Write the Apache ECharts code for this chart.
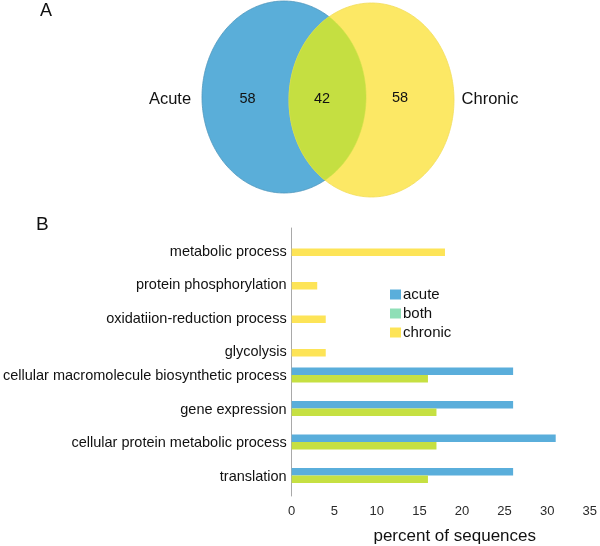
<!DOCTYPE html>
<html><head><meta charset="utf-8">
<script src="https://cdn.jsdelivr.net/npm/echarts@6/dist/echarts.min.js"></script>
<style>html,body{margin:0;padding:0;background:#fff}#c{width:600px;height:546px}</style>
</head><body><div id="c"></div>
<script>
// ---- data ----
const vennSets = ['Acute', 'Chronic'];
const vennCounts = [58, 42, 58]; // acute only, shared, chronic only
const categories = ['metabolic process', 'protein phosphorylation', 'oxidatiion-reduction process', 'glycolysis',
  'cellular macromolecule biosynthetic process', 'gene expression', 'cellular protein metabolic process', 'translation'];
const seriesNames = ['acute', 'both', 'chronic'];
const acuteValues = [null, null, null, null, 26, 26, 31, 26];
const bothValues = [null, null, null, null, 16, 17, 17, 16];
const chronicValues = [18, 3, 4, 4, null, null, null, null];
const xTickValues = [0, 5, 10, 15, 20, 25, 30, 35];
const axisTitle = 'percent of sequences';
const panelLabels = ['A', 'B'];

// ---- layout / style ----
const FONT = '"Liberation Sans", Arial, Helvetica, sans-serif';
const C_BLUE = '#5aaed9', C_YELLOW = '#fce865', C_LENS = '#c5df41';
const C_BAR_BLUE = '#5aaedb', C_BAR_GREEN = '#c6e042', C_BAR_YELLOW = '#fde457', C_LEG_GREEN = '#8fdfb7';
const VENN = {
  a: { cx: 284, cy: 97, rx: 82, ry: 96 },
  b: { cx: 371.5, cy: 100, rx: 82.5, ry: 97 }
};
const labelShift = [7, 7, 7, 7, -2.5, -2.5, -2.5, -2.5];

function inside(e, x, y) {
  const dx = (x - e.cx) / e.rx, dy = (y - e.cy) / e.ry;
  return dx * dx + dy * dy <= 1;
}
function ellipsePts(e, t0, t1, n) {
  const pts = [];
  for (let i = 0; i <= n; i++) {
    const t = t0 + (t1 - t0) * i / n;
    pts.push([e.cx + e.rx * Math.cos(t), e.cy + e.ry * Math.sin(t)]);
  }
  return pts;
}
function lensPts() {
  const left = ellipsePts(VENN.b, Math.PI / 2, Math.PI * 1.5, 720).filter(p => inside(VENN.a, p[0], p[1]));
  const right = ellipsePts(VENN.a, -Math.PI / 2, Math.PI / 2, 720).filter(p => inside(VENN.b, p[0], p[1]));
  return left.concat(right);
}

function renderVenn(params, api) {
  const txt = (s, x, y, size) => ({
    type: 'text', style: { text: s, x: x, y: y, font: size + 'px ' + FONT, fill: '#111', align: 'center', verticalAlign: 'middle' }
  });
  const a = VENN.a, b = VENN.b;
  return {
    type: 'group',
    children: [
      { type: 'polygon', shape: { points: ellipsePts(a, 0, Math.PI * 2, 360) }, style: { fill: C_BLUE, stroke: '#4f97bd', lineWidth: 0.8 } },
      { type: 'polygon', shape: { points: ellipsePts(b, 0, Math.PI * 2, 360) }, style: { fill: C_YELLOW, stroke: '#f3dd5c', lineWidth: 0.8 } },
      { type: 'polygon', shape: { points: lensPts() }, style: { fill: C_LENS, stroke: '#cfe04a', lineWidth: 0.6 } },
      txt(vennSets[0], 170, 99, 16.5),
      txt(String(vennCounts[0]), 247.5, 99, 14.5),
      txt(String(vennCounts[1]), 322, 99, 14.5),
      txt(String(vennCounts[2]), 400, 98, 14.5),
      txt(vennSets[1], 490, 99, 16.5)
    ]
  };
}

const rich = {
  dn: { fontSize: 14.5, fontFamily: FONT, color: '#111', padding: [14, 0, 0, 0] },
  up: { fontSize: 14.5, fontFamily: FONT, color: '#111', padding: [0, 0, 5, 0] }
};

const chart = echarts.init(document.getElementById('c'), null, { renderer: 'canvas' });
chart.setOption({
  animation: false,
  backgroundColor: '#fff',
  textStyle: { fontFamily: FONT },
  graphic: [
    { type: 'text', left: 40, top: 2, style: { text: panelLabels[0], font: '18px ' + FONT, fill: '#111' } },
    { type: 'text', left: 36, top: 215, style: { text: panelLabels[1], font: '19px ' + FONT, fill: '#111' } }
  ],
  legend: {
    orient: 'vertical', left: 385, top: 282, itemWidth: 11, itemHeight: 10, itemGap: 4, icon: 'rect',
    selectedMode: false,
    textStyle: { fontSize: 15, color: '#111', fontFamily: FONT, padding: [0, 0, 0, -3] },
    data: [
      { name: seriesNames[0], itemStyle: { color: C_BAR_BLUE } },
      { name: seriesNames[1], itemStyle: { color: C_LEG_GREEN } },
      { name: seriesNames[2], itemStyle: { color: C_BAR_YELLOW } }
    ]
  },
  grid: { left: 289, right: 7, top: 228, bottom: 48 },
  xAxis: {
    type: 'value', min: xTickValues[0], max: xTickValues[xTickValues.length - 1], interval: xTickValues[1] - xTickValues[0],
    axisLine: { show: false }, axisTick: { show: false }, splitLine: { show: false },
    axisLabel: { fontSize: 13, color: '#2a2a2a', margin: 9 },
    name: axisTitle, nameLocation: 'middle', nameGap: 32,
    nameTextStyle: { fontSize: 17, color: '#111', padding: [0, 0, 0, 28] }
  },
  yAxis: {
    type: 'category', inverse: true, data: categories,
    axisLine: { lineStyle: { color: '#a9a9a9' } },
    axisTick: { length: 4, lineStyle: { color: '#a9a9a9' } },
    axisLabel: {
      interval: 0, margin: 5, fontSize: 14.5, color: '#111', rich: rich,
      formatter: (v, i) => '{' + (labelShift[i] > 0 ? 'dn' : 'up') + '|' + v + '}'
    }
  },
  series: [
    { name: seriesNames[0], type: 'bar', data: acuteValues, barWidth: 7.5, barGap: '0%', itemStyle: { color: C_BAR_BLUE } },
    { name: seriesNames[1], type: 'bar', data: bothValues, barWidth: 7.5, barGap: '0%', itemStyle: { color: C_BAR_GREEN } },
    { name: seriesNames[2], type: 'bar', data: chronicValues, barWidth: 7.5, barGap: '0%', itemStyle: { color: C_BAR_YELLOW } },
    { type: 'custom', coordinateSystem: 'none', silent: true, data: [vennCounts], renderItem: renderVenn }
  ]
});
</script></body></html>
